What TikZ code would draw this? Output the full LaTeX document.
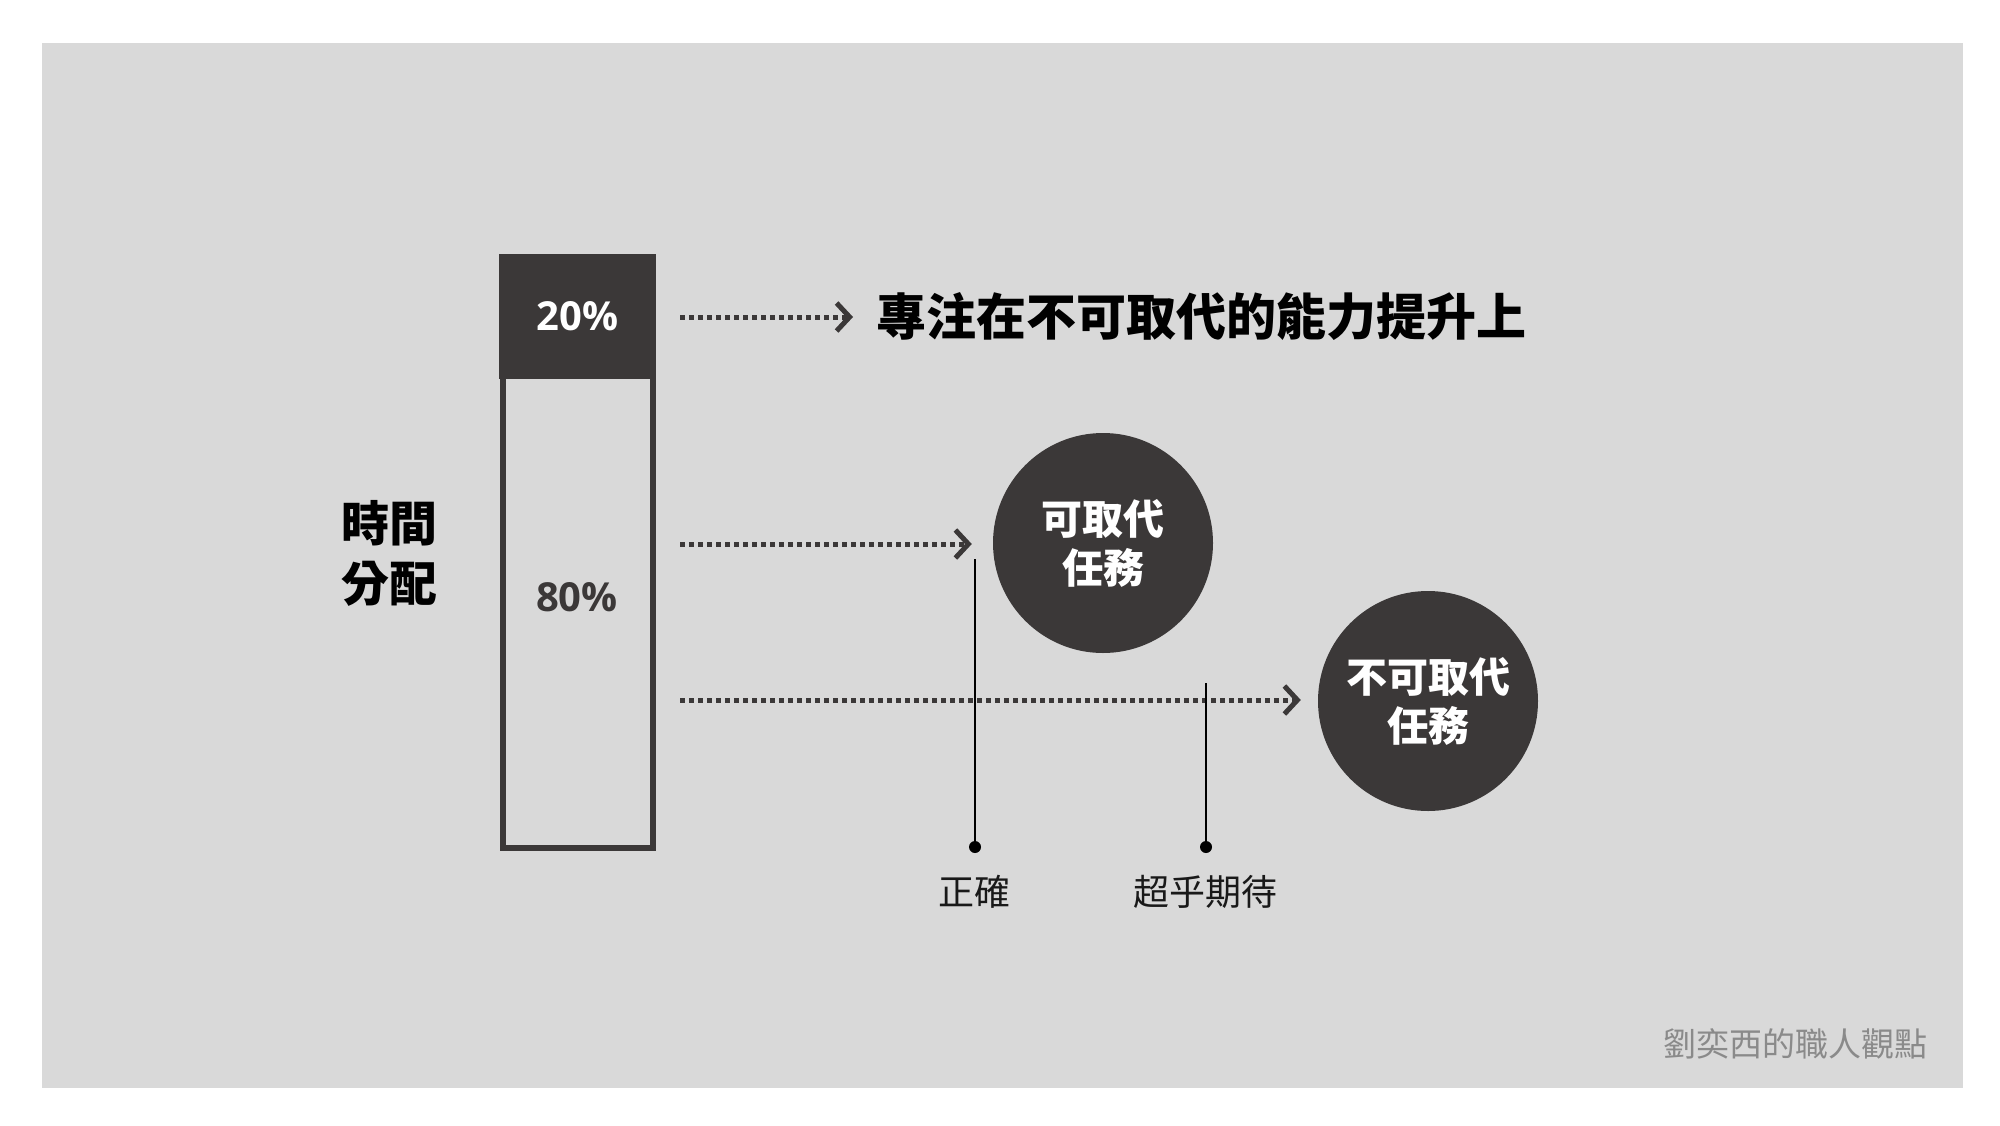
\documentclass[tikz,border=0pt]{standalone}
\usepackage{fontspec}
\setmainfont{Open Sans}
\newfontfamily\cjk{Noto Sans CJK TC}
\newfontfamily\cjkblack{Noto Sans CJK TC Black}
\newfontfamily\numf{Open Sans}
\usetikzlibrary{arrows.meta}
\definecolor{bg}{HTML}{D9D9D9}
\definecolor{dk}{HTML}{3B3838}
\definecolor{wm}{HTML}{8A8A8A}
\tikzset{
  dotarrow/.style={dk, line width=5pt, dash pattern=on 5pt off 4pt,
    -{Straight Barb[length=13pt,width=28pt,line width=5pt]}},
  bubble/.style={circle, fill=dk, minimum size=220pt, inner sep=0pt, text=white,
    align=center, font=\cjk\bfseries\fontsize{41pt}{49pt}\selectfont},
  pct/.style={inner sep=0pt, font=\numf\bfseries\fontsize{40pt}{48pt}\selectfont},
  leader/.style={black, line width=1.5pt},
  label/.style={inner sep=0pt, text=black!90, font=\cjk\fontsize{36pt}{40pt}\selectfont},
  enddot/.style={circle, fill=black, inner sep=0pt, minimum size=12pt}
}
\begin{document}
\begin{tikzpicture}[x=1pt,y=-1pt]
\useasboundingbox (0,0) rectangle (2000,1125);
\fill[white] (0,0) rectangle (2000,1125);
\fill[bg] (42,43) rectangle (1963,1088);
% bar
\node[draw=dk, line width=6pt, minimum width=150pt, minimum height=591pt, inner sep=0pt] (bar) at (578,552.5) {};
\node[fill=dk, minimum width=157pt, minimum height=125pt, inner sep=0pt] (top) at (577.5,316.5) {};
\node[pct, text=white] (p20) at (577.5,316) {20\%};
\node[pct, text=dk] (p80) at (577,597) {80\%};
% left label
\node[inner sep=0pt, align=center, font=\cjkblack\fontsize{48pt}{60pt}\selectfont] (time) at (389,553) {時間\\分配};
% title
\node[inner sep=0pt, anchor=west, font=\cjkblack\fontsize{50pt}{60pt}\selectfont] (title) at (876,317) {專注在不可取代的能力提升上};
% bubbles
\node[bubble] (c1) at (1103,543) {可取代\\任務};
\node[bubble] (c2) at (1428,701) {不可取代\\任務};
% arrows
\coordinate (s1) at (680,317);
\coordinate (s2) at (680,544);
\coordinate (s3) at (680,700);
\draw[dotarrow, shorten >=23pt] (s1) -- (s1 -| title.west);
\draw[dotarrow, shorten >=21pt] (s2) -- (s2 -| c1.west);
\draw[dotarrow, shorten >=17pt] (s3) -- (s3 -| c2.west);
% leaders
\coordinate (l1) at (975,559);
\coordinate (l2) at (1206,683);
\node[enddot] (d1) at (975,847) {};
\node[enddot] (d2) at (1206,847) {};
\draw[leader] (l1) -- (d1.center);
\draw[leader] (l2) -- (d2.center);
\node[label] (t1) at (974,892) {正確};
\node[label] (t2) at (1205,892) {超乎期待};
% watermark
\node[inner sep=0pt, anchor=east, text=wm, font=\cjk\fontsize{33pt}{36pt}\selectfont] (wmk) at (1928,1044) {劉奕西的職人觀點};
\end{tikzpicture}
\end{document}
